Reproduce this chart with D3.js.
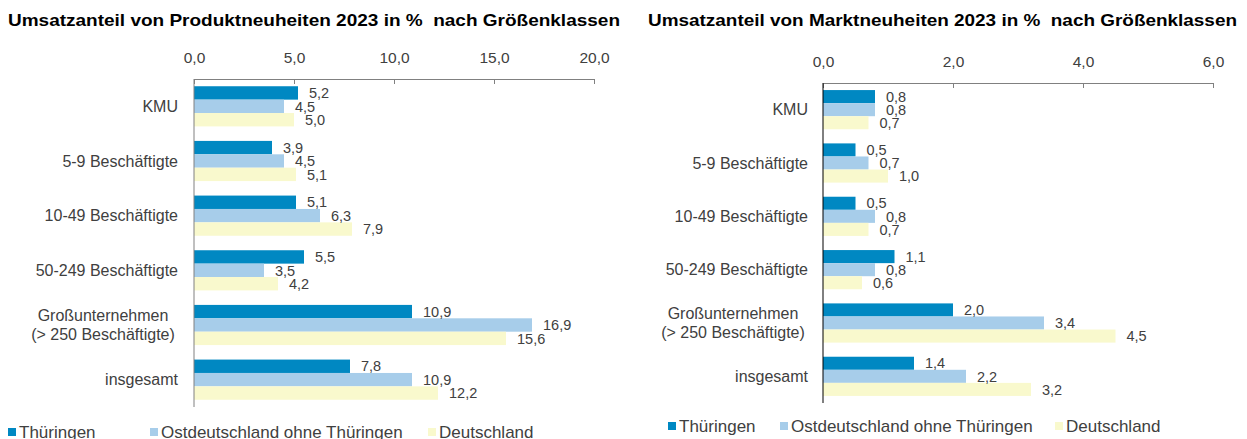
<!DOCTYPE html>
<head>
<meta charset="utf-8">
<style>
    body { margin: 0; background: #fff; }
    text { font-family: "Liberation Sans", Arial, sans-serif; fill: #404040; }
    .title { font-weight: bold; fill: #000; white-space: pre; }
    .domain { stroke: #808080; }
</style>
<title>Umsatzanteil Neuheiten 2023</title>
</head>

<body>
    <script src="https://d3js.org/d3.v7.min.js"></script>
    <script>
        // categories and series
        const categories = ['KMU', '5-9 Beschäftigte', '10-49 Beschäftigte', '50-249 Beschäftigte',
            'Großunternehmen\n(> 250 Beschäftigte)', 'insgesamt'];
        const series = ['Thüringen', 'Ostdeutschland ohne Thüringen', 'Deutschland'];
        const colors = ['#0088c2', '#a7cdea', '#f9f9cd'];

        // Produktneuheiten
        const prodThueringen = [5.2, 3.9, 5.1, 5.5, 10.9, 7.8];
        const prodOst = [4.5, 4.5, 6.3, 3.5, 16.9, 10.9];
        const prodDeutschland = [5.0, 5.1, 7.9, 4.2, 15.6, 12.2];
        const prodTicks = [0, 5, 10, 15, 20];

        // Marktneuheiten
        const marktThueringen = [0.8, 0.5, 0.5, 1.1, 2.0, 1.4];
        const marktOst = [0.8, 0.7, 0.8, 0.8, 3.4, 2.2];
        const marktDeutschland = [0.7, 1.0, 0.7, 0.6, 4.5, 3.2];
        const marktTicks = [0, 2, 4, 6];

        const fmt = v => d3.format('.1f')(v).replace('.', ',');

        const svg = d3.select('body').append('svg')
            .attr('width', 1247)
            .attr('height', 439);

        function drawPanel(opt) {
            const g = svg.append('g');

            g.append('text')
                .attr('class', 'title')
                .attr('x', opt.titleX)
                .attr('y', 26)
                .attr('font-size', '17px')
                .attr('textLength', opt.titleW)
                .attr('lengthAdjust', 'spacingAndGlyphs')
                .text(opt.title);

            const x = d3.scaleLinear().domain([0, opt.ticks[opt.ticks.length - 1]])
                .range([opt.x0, opt.x1]);
            const y = d3.scaleBand().domain(categories)
                .range([opt.y0, opt.y1])
                .paddingInner(0.265)
                .paddingOuter(0.1325);
            const ySub = d3.scaleBand().domain(series).range([0, y.bandwidth()]);

            // top axis
            const xAxis = g.append('g')
                .attr('transform', `translate(0,${opt.y0})`)
                .call(d3.axisTop(x).tickValues(opt.ticks).tickFormat(fmt)
                    .tickSizeInner(-5).tickSizeOuter(0).tickPadding(16));
            xAxis.selectAll('line').attr('stroke', '#808080');
            xAxis.selectAll('text').attr('font-size', '15.5px').attr('fill', '#404040')
                .attr('font-family', '"Liberation Sans", Arial, sans-serif');

            const rows = categories.map((c, i) => ({
                cat: c,
                vals: opt.data.map(s => s[i])
            }));

            const grp = g.selectAll('.grp').data(rows).enter().append('g')
                .attr('transform', d => `translate(0,${y(d.cat)})`);

            grp.selectAll('rect').data(d => d.vals.map((v, k) => ({ v, s: series[k], k })))
                .enter().append('rect')
                .attr('x', x(0))
                .attr('y', d => ySub(d.s))
                .attr('width', d => x(d.v) - x(0))
                .attr('height', ySub.bandwidth())
                .attr('fill', d => colors[d.k]);

            grp.selectAll('.val').data(d => d.vals.map((v, k) => ({ v, s: series[k] })))
                .enter().append('text')
                .attr('class', 'val')
                .attr('x', d => x(d.v) + 11)
                .attr('y', d => ySub(d.s) + ySub.bandwidth() / 2)
                .attr('dy', '0.36em')
                .attr('font-size', '14.5px')
                .text(d => fmt(d.v));

            // vertical axis line
            g.append('line')
                .attr('x1', x(0)).attr('x2', x(0))
                .attr('y1', opt.y0).attr('y2', opt.y1)
                .attr('stroke', opt.axisColor);

            // category labels
            g.selectAll('.cat').data(categories).enter().append('text')
                .attr('class', 'cat')
                .attr('font-size', '16px')
                .attr('y', d => y(d) + y.bandwidth() / 2)
                .each(function (d) {
                    const lines = d.split('\n');
                    const t = d3.select(this);
                    const multi = lines.length > 1;
                    t.attr('text-anchor', multi ? 'middle' : 'end');
                    lines.forEach((l, i) => {
                        t.append('tspan')
                            .attr('x', multi ? opt.labelX - 75 : opt.labelX)
                            .attr('dy', i === 0 ? `${0.36 - (lines.length - 1) * 0.6}em` : '1.2em')
                            .text(l);
                    });
                });

            // legend
            const leg = g.selectAll('.leg').data(series).enter().append('g')
                .attr('transform', (d, i) => `translate(${opt.legendX[i]},${opt.legendY})`);
            leg.append('rect')
                .attr('x', 0).attr('y', -4)
                .attr('width', 8).attr('height', 8)
                .attr('fill', (d, i) => colors[i]);
            leg.append('text')
                .attr('x', 11)
                .attr('dy', '0.36em')
                .attr('font-size', '17px')
                .text(d => d);
        }

        drawPanel({
            title: 'Umsatzanteil von Produktneuheiten 2023 in %  nach Größenklassen',
            titleX: 8, titleW: 612,
            data: [prodThueringen, prodOst, prodDeutschland],
            ticks: prodTicks,
            x0: 194, x1: 594, y0: 79, y1: 407,
            labelX: 178,
            axisColor: '#808080',
            legendX: [8, 150, 428],
            legendY: 432
        });

        drawPanel({
            title: 'Umsatzanteil von Marktneuheiten 2023 in %  nach Größenklassen',
            titleX: 648, titleW: 589,
            data: [marktThueringen, marktOst, marktDeutschland],
            ticks: marktTicks,
            x0: 823, x1: 1213, y0: 83, y1: 403,
            labelX: 808,
            axisColor: '#000',
            legendX: [668, 780, 1055],
            legendY: 426
        });
    </script>
</body>
